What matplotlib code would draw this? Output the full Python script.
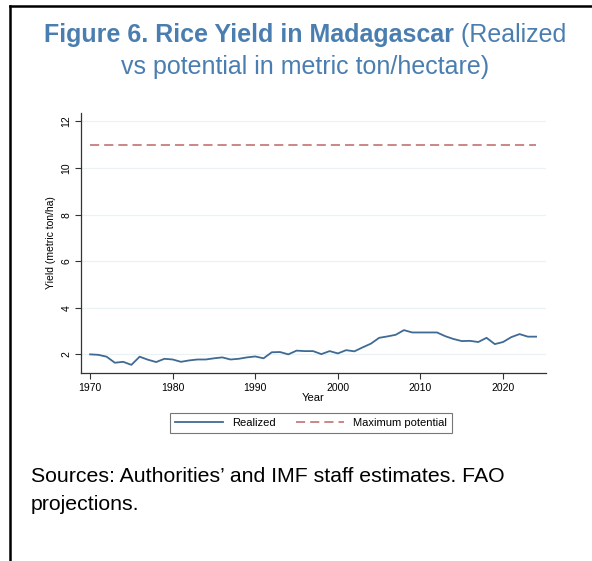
import matplotlib
matplotlib.use("Agg")
import matplotlib.pyplot as plt
from matplotlib.lines import Line2D

plt.rcParams['font.family'] = ['Liberation Sans', 'DejaVu Sans']

years = list(range(1970, 2025))
realized = [2.00, 1.98, 1.90, 1.64, 1.68, 1.55, 1.90, 1.77, 1.67, 1.81,
            1.78, 1.68, 1.74, 1.78, 1.78, 1.83, 1.87, 1.78, 1.81, 1.87,
            1.91, 1.83, 2.09, 2.10, 2.00, 2.16, 2.14, 2.14, 2.01, 2.14,
            2.04, 2.18, 2.13, 2.30, 2.46, 2.71, 2.77, 2.84, 3.04, 2.94,
            2.94, 2.94, 2.94, 2.78, 2.66, 2.57, 2.58, 2.53, 2.71, 2.44,
            2.53, 2.74, 2.87, 2.76, 2.76]
potential = [11.0] * len(years)
y_ticks = [2, 4, 6, 8, 10, 12]
x_ticks = [1970, 1980, 1990, 2000, 2010, 2020]

W, H = 592, 561
fig = plt.figure(figsize=(W / 100, H / 100), dpi=100)

# frame lines (top and left)
fig.add_artist(Line2D([10 / W, 1.0], [1 - 6 / H, 1 - 6 / H], color='black', lw=1.8))
fig.add_artist(Line2D([10 / W, 10 / W], [1 - 6 / H, 0.0], color='black', lw=1.8))

title_col = '#4A7EB0'
tfs = 18
renderer = fig.canvas.get_renderer()
t_bold = fig.text(0, 1 - 35 / H, 'Figure 6. Rice Yield in Madagascar', ha='left', va='center',
                  fontsize=tfs, fontweight='bold', color=title_col)
t_reg = fig.text(0, 1 - 35 / H, ' (Realized', ha='left', va='center',
                 fontsize=tfs, color=title_col)
wb = t_bold.get_window_extent(renderer).width
wr = t_reg.get_window_extent(renderer).width
x0 = 305 - (wb + wr) / 2
t_bold.set_x(x0 / W)
t_reg.set_x((x0 + wb) / W)
fig.text(305 / W, 1 - 67 / H, 'vs potential in metric ton/hectare)',
         ha='center', va='center', fontsize=tfs, color=title_col)

ax = fig.add_axes([81 / W, 1 - 373 / H, (546 - 81) / W, (373 - 113) / H])
blue = '#3F6A94'
red = '#C27272'
ax.plot(years, realized, color=blue, lw=1.3, label='Realized')
ax.plot(years, potential, color=red, lw=1.2, dashes=(5.5, 3), label='Maximum potential')

ax.set_xlim(1968.9, 2025.2)
ax.set_ylim(1.2, 12.36)
ax.set_xticks(x_ticks)
ax.set_yticks(y_ticks)
ax.grid(axis='y', color='#EAF2F3', lw=0.9)
ax.set_axisbelow(True)
for s in ['top', 'right']:
    ax.spines[s].set_visible(False)
for s in ['left', 'bottom']:
    ax.spines[s].set_color('#333333')
    ax.spines[s].set_linewidth(0.9)
ax.tick_params(axis='both', labelsize=7.5, length=4, width=0.8, color='#333333', pad=3)
for lab in ax.get_yticklabels():
    lab.set_rotation(90)
    lab.set_va('center')
ax.set_xlabel('Year', fontsize=8, labelpad=0)
ax.set_ylabel('Yield (metric ton/ha)', fontsize=7.5, labelpad=4)

leg = fig.legend(handles=ax.get_lines(), loc='center', bbox_to_anchor=(311 / W, 1 - 423 / H),
                 ncol=2, fontsize=8, frameon=True, fancybox=False, edgecolor='#555555',
                 handlelength=4.3, columnspacing=1.9, borderpad=0.45, handletextpad=0.8,
                 borderaxespad=0)
leg.get_frame().set_linewidth(0.8)

fig.text(31 / W, 1 - 477 / H, 'Sources: Authorities\u2019 and IMF staff estimates. FAO',
         ha='left', va='center', fontsize=15.3, color='black')
fig.text(31 / W, 1 - 505 / H, 'projections.',
         ha='left', va='center', fontsize=15.3, color='black')

fig.savefig('out.png', dpi=100)
